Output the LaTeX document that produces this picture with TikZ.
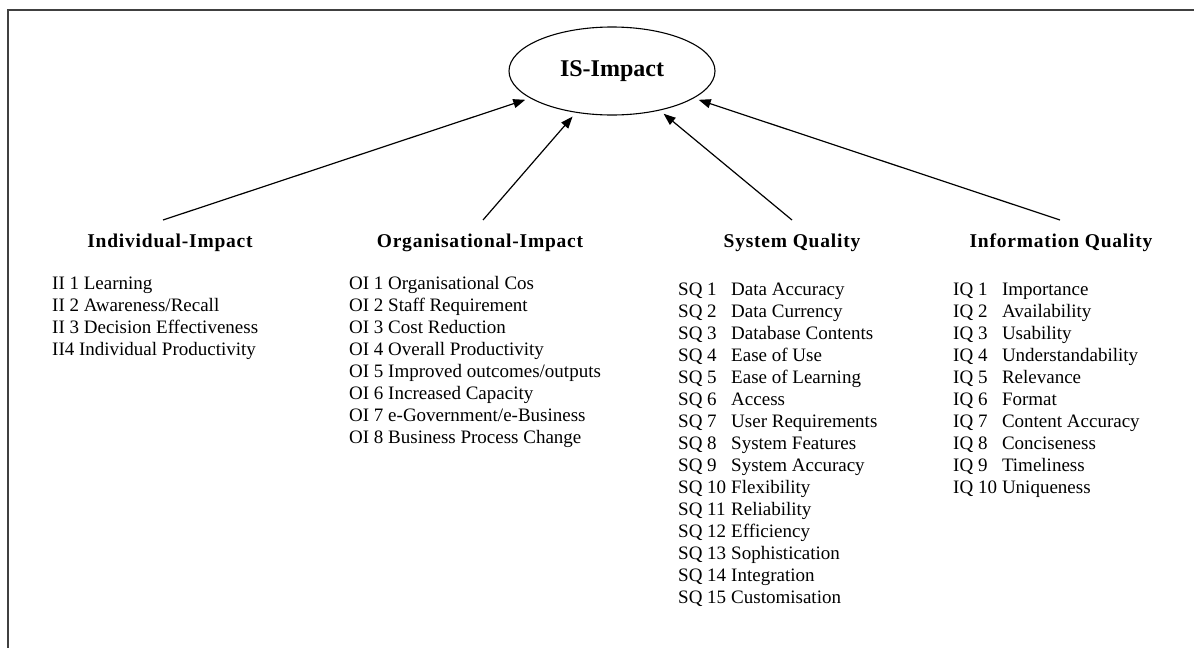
\documentclass[tikz,border=0pt]{standalone}
\usepackage{fontspec}
\setmainfont{Liberation Serif}
\newfontfamily\headfont[LetterSpace=4]{Liberation Serif}
\usetikzlibrary{shapes.geometric,arrows.meta}
\begin{document}
\begin{tikzpicture}[x=1pt,y=-1pt,
  hd/.style={font=\headfont\bfseries\fontsize{19.5}{22}\selectfont, inner sep=0, anchor=base},
  lst/.style={font=\fontsize{19}{22}\selectfont, inner sep=0, anchor=base west},
  arr/.style={-{Triangle[length=12pt,width=9pt]}, line width=1.2pt, shorten >=5pt},
  frame/.style={line width=1.8pt, draw=black!75},
]
\useasboundingbox (0,0) rectangle (1194,648);
\draw[frame] (1194,10) -- (8,10) -- (8,648);

\node[ellipse, draw, line width=1.1pt, minimum width=206pt, minimum height=88pt, inner sep=0,
      font=\bfseries\fontsize{24}{28}\selectfont] (ell) at (612,71) {IS-Impact};

\node[hd] (hii) at (170,247) {Individual-Impact};
\node[hd] (hoi) at (480,247) {Organisational-Impact};
\node[hd] (hsq) at (792,247) {System Quality};
\node[hd] (hiq) at (1061,247) {Information Quality};

\coordinate (s1) at (163,220);
\coordinate (s2) at (483,220);
\coordinate (s3) at (792,220);
\coordinate (s4) at (1060,220);

\draw[arr] (s1) -- (ell);
\draw[arr] (s2) -- (ell);
\draw[arr] (s3) -- (ell);
\draw[arr] (s4) -- (ell);

\node[lst] (lii) at (52,289) {\begin{tabular}[t]{@{}l@{}}
II 1 Learning\\
II 2 Awareness/Recall\\
II 3 Decision Effectiveness\\
II4 Individual Productivity
\end{tabular}};

\node[lst] (loi) at (349,289) {\begin{tabular}[t]{@{}l@{}}
OI 1 Organisational Cos\\
OI 2 Staff Requirement\\
OI 3 Cost Reduction\\
OI 4 Overall Productivity\\
OI 5 Improved outcomes/outputs\\
OI 6 Increased Capacity\\
OI 7 e-Government/e-Business\\
OI 8 Business Process Change
\end{tabular}};

\node[lst] (lsq) at (678,295) {\begin{tabular}[t]{@{}l@{\hspace{5pt}}l@{}}
SQ 1 & Data Accuracy\\
SQ 2 & Data Currency\\
SQ 3 & Database Contents\\
SQ 4 & Ease of Use\\
SQ 5 & Ease of Learning\\
SQ 6 & Access\\
SQ 7 & User Requirements\\
SQ 8 & System Features\\
SQ 9 & System Accuracy\\
SQ 10 & Flexibility\\
SQ 11 & Reliability\\
SQ 12 & Efficiency\\
SQ 13 & Sophistication\\
SQ 14 & Integration\\
SQ 15 & Customisation
\end{tabular}};

\node[lst] (liq) at (953,295) {\begin{tabular}[t]{@{}l@{\hspace{5pt}}l@{}}
IQ 1 & Importance\\
IQ 2 & Availability\\
IQ 3 & Usability\\
IQ 4 & Understandability\\
IQ 5 & Relevance\\
IQ 6 & Format\\
IQ 7 & Content Accuracy\\
IQ 8 & Conciseness\\
IQ 9 & Timeliness\\
IQ 10 & Uniqueness
\end{tabular}};
\end{tikzpicture}
\end{document}
